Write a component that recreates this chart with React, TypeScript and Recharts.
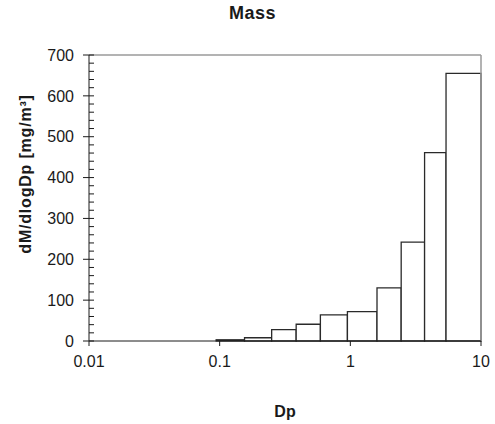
import { ComposedChart, XAxis, YAxis, ReferenceArea, ReferenceLine, Line, Label } from 'recharts'

// bin edges (Dp, µm) and the height of each bin
const binEdges = [0.094, 0.155, 0.25, 0.385, 0.59, 0.95, 1.6, 2.45, 3.7, 5.4, 10]
const massValues = [3, 8, 28, 41, 64, 72, 130, 242, 461, 655]

const xTicks = [0.01, 0.1, 1, 10]
const yTicks = [0, 100, 200, 300, 400, 500, 600, 700]
const yMinorTicks = [
  0, 20, 40, 60, 80, 100, 120, 140, 160, 180, 200, 220, 240, 260, 280, 300,
  320, 340, 360, 380, 400, 420, 440, 460, 480, 500, 520, 540, 560, 580, 600,
  620, 640, 660, 680, 700,
]

const FONT = '"Liberation Sans", Arial, sans-serif'
const INK = '#1a1a1a'

const bins = massValues.map((v, i) => ({ lo: binEdges[i], hi: binEdges[i + 1], value: v }))

const tickStyle = { fontSize: 16, fill: INK, fontFamily: FONT }

export default function App() {
  return (
    <div style={{ position: 'relative', width: 495, height: 424, background: '#fff' }}>
      <style>{'body{margin:0}'}</style>
      <div
        style={{
          position: 'absolute', left: 0, width: 505, top: 3, textAlign: 'center',
          fontFamily: FONT, fontWeight: 'bold', fontSize: 18, letterSpacing: 0.5, color: INK,
        }}
      >
        Mass
      </div>
      <ComposedChart width={495} height={424} data={bins} margin={{ top: 55, right: 14, bottom: 6, left: 0 }}>
        <XAxis
          dataKey="lo"
          type="number"
          scale="log"
          domain={[0.01, 10]}
          ticks={xTicks}
          allowDataOverflow
          height={77}
          stroke={INK}
          tickSize={5}
          tickMargin={10}
          tick={tickStyle}
        >
          <Label
            content={() => (
              <text x={285} y={417} textAnchor="middle" fontFamily={FONT} fontWeight="bold" fontSize={16} fill={INK}>
                Dp
              </text>
            )}
          />
        </XAxis>
        <YAxis
          type="number"
          domain={[0, 700]}
          ticks={yTicks}
          allowDataOverflow
          width={89}
          stroke={INK}
          tickSize={6}
          tickMargin={9}
          tick={tickStyle}
        >
          <Label
            content={() => (
              <text
                x={25}
                y={174}
                transform="rotate(-90 25 174)"
                textAnchor="middle"
                dominantBaseline="central"
                fontFamily={FONT}
                fontWeight="bold"
                fontSize={16}
                fill={INK}
                letterSpacing={0.8}
              >
                dM/dlogDp [mg/m³]
              </text>
            )}
          />
        </YAxis>
        {/* inner minor ticks every 20 */}
        <YAxis
          yAxisId="minor"
          type="number"
          domain={[0, 700]}
          ticks={yMinorTicks}
          interval={0}
          allowDataOverflow
          mirror
          width={1}
          axisLine={false}
          tickLine={{ stroke: INK }}
          tickSize={5}
          tick={() => <g />}
        />
        <ReferenceLine y={700} stroke="#9a9a9a" strokeWidth={1.5} />
        <ReferenceLine x={10} stroke="#9a9a9a" strokeWidth={1.5} />
        {bins.map((b) => (
          <ReferenceArea
            key={b.lo}
            x1={b.lo}
            x2={b.hi}
            y1={0}
            y2={b.value}
            fill="#ffffff"
            fillOpacity={1}
            stroke="#2a2a2a"
            strokeWidth={1.3}
          />
        ))}
        <Line yAxisId="minor" dataKey="value" stroke="none" dot={false} activeDot={false} isAnimationActive={false} />
      </ComposedChart>
    </div>
  )
}
